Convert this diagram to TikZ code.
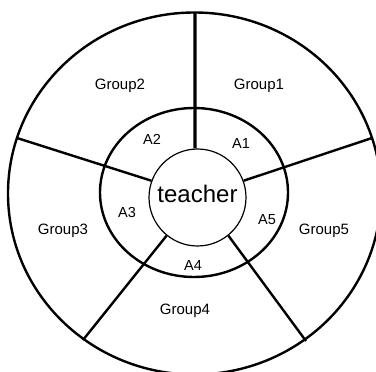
\documentclass[tikz,border=0pt]{standalone}
\usepackage{fontspec}
\setmainfont{Liberation Sans}
\usepackage{tikz}
\usetikzlibrary{positioning}
\tikzset{
  rim/.style={line width=2.4pt},
  spoke/.style={line width=2.4pt},
  grouplbl/.style={anchor=base, font=\fontsize{15}{18}\selectfont},
  arealbl/.style={anchor=base, font=\fontsize{14.5}{17}\selectfont},
}

\begin{document}
\begin{tikzpicture}[x=1pt, y=-1pt]
        \useasboundingbox (0,0) rectangle (376,372);
        \draw[rim] (194.5,193.5) ellipse [x radius=186.5, y radius=181];
        \draw[rim] (194,192.5) ellipse [x radius=94, y radius=84.5];
        \node[circle, draw, line width=1.2pt, fill=white, minimum size=97pt, inner sep=0pt,
              text depth=7pt, font=\fontsize{24}{28}\selectfont] (teacher) at (197.5,197.5) {teacher};
        % outer ends of the spokes
        \coordinate (sp12) at (195,12.5);
        \coordinate (sp23) at (17,138);
        \coordinate (sp34) at (83,340);
        \coordinate (sp45) at (306,341);
        \coordinate (sp51) at (372,138);
        \draw[spoke, line width=3.2pt] (teacher.93) -- (sp12);
        \draw[spoke] (teacher.160) -- (sp23);
        \draw[spoke] (teacher.231) -- (sp34);
        \draw[spoke] (teacher.309) -- (sp45);
        \draw[spoke] (teacher.20.6) -- (sp51);
        \node[grouplbl] (g1) at (259,89.5) {Group1};
        \node[grouplbl] (g2) at (120,89.5) {Group2};
        \node[grouplbl] (g3) at (63,234.5) {Group3};
        \node[grouplbl] (g4) at (185,314.5) {Group4};
        \node[grouplbl] (g5) at (324,234.5) {Group5};
        \node[arealbl] (a1) at (241,149) {A1};
        \node[arealbl] (a2) at (152,145) {A2};
        \node[arealbl] (a3) at (127,218) {A3};
        \node[arealbl] (a4) at (193,270) {A4};
        \node[arealbl] (a5) at (267,225) {A5};
    \end{tikzpicture}
\end{document}
